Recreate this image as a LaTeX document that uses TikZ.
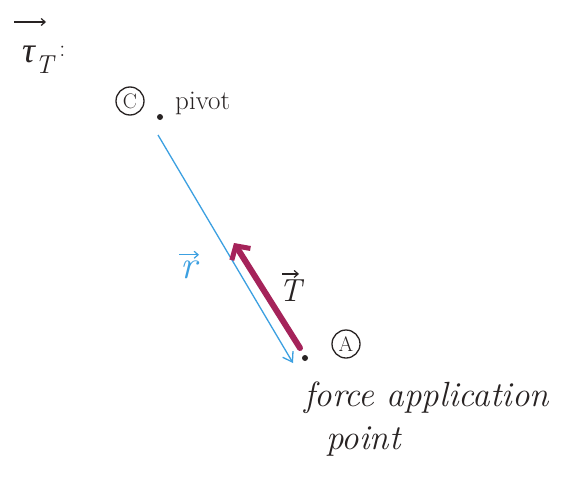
\documentclass[tikz,border=0pt]{standalone}
\usepackage{fontspec}
\newfontfamily\gk{Liberation Serif}
\usetikzlibrary{arrows.meta}
\definecolor{rblue}{RGB}{60,160,225}
\definecolor{tmag}{RGB}{165,35,90}
\definecolor{ink}{RGB}{40,35,35}
\begin{document}
\begin{tikzpicture}[x=1pt,y=-1pt,
  lbl/.style={text=ink,inner sep=0pt},
  vecarr/.style={line width=1.2pt,-{Straight Barb[length=4pt,width=7pt]}},
  circ/.style={draw=ink,circle,line width=1.3pt,minimum size=28pt,inner sep=0pt,text=ink,font=\fontsize{21}{21}\selectfont},
  dotm/.style={fill=ink,circle,inner sep=0pt,minimum size=6pt}]
\useasboundingbox (0,0) rectangle (564,487);
\fill[white] (0,0) rectangle (564,487);
% tau label
\node[lbl,font=\fontsize{36}{36}\selectfont,anchor=base west] (tau) at (22,63) {{\gk\itshape τ}\raisebox{-10pt}{\fontsize{26}{26}\selectfont\itshape T}\hspace{6pt}\raisebox{6pt}{\fontsize{24}{24}\selectfont :}};
\coordinate (ta1) at (14,22);
\coordinate (ta2) at (46,22);
\draw[ink,vecarr] (ta1) -- (ta2);
\node[circ] (C) at (130,101) {C};
\node[dotm] (piv) at (160,117) {};
\node[lbl,font=\fontsize{27}{27}\selectfont,anchor=west] (pivl) at (175,103) {pivot};
\coordinate (rs) at (158,135);
\coordinate (re) at (293,363);
\draw[rblue,line width=1.3pt,-{Straight Barb[length=9pt,width=12pt]}] (rs) -- (re);
\node[lbl,text=rblue,font=\fontsize{40}{40}\selectfont\itshape] (rl) at (189,270) {r};
\draw[rblue,vecarr] ([xshift=-10pt,yshift=6pt]rl.north) -- ([xshift=10pt,yshift=6pt]rl.north);
\node[dotm] (A) at (305,358) {};
\coordinate (ts) at (300,348);
\coordinate (te) at (234,243);
\draw[tmag,line width=6pt,line cap=round,-{Straight Barb[length=10pt,width=22pt,line width=5pt]}] (ts) -- (te);
\node[lbl,font=\fontsize{32}{32}\selectfont\itshape] (tl) at (290,291) {T};
\draw[ink,vecarr] ([xshift=-8pt,yshift=6pt]tl.north) -- ([xshift=9pt,yshift=6pt]tl.north);
\node[circ] (Al) at (346,344) {A};
\node[lbl,font=\fontsize{35}{35}\selectfont\itshape,anchor=west] (fa) at (304,398) {force application};
\node[lbl,font=\fontsize{35}{35}\selectfont\itshape,anchor=west] (pt) at (326,442) {point};
\end{tikzpicture}
\end{document}
